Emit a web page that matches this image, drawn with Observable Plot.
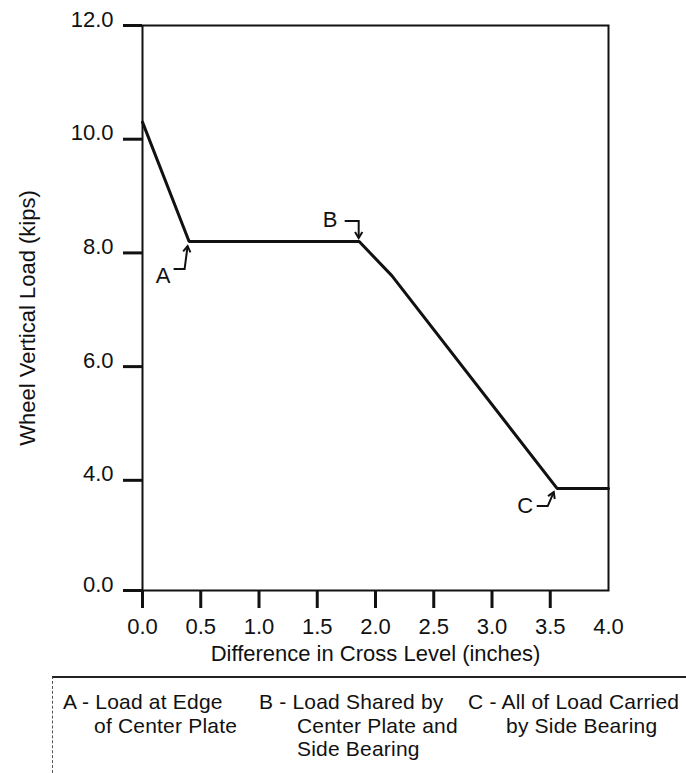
<!DOCTYPE html>
<html><head><meta charset="utf-8">
<script src="https://cdn.jsdelivr.net/npm/d3@7"></script>
<script src="https://cdn.jsdelivr.net/npm/@observablehq/plot@0.6"></script>
<style>
body{margin:0;background:#fff;font-family:"Liberation Sans",Arial,sans-serif;color:#111}
#chart svg{display:block}
#legend{position:relative;margin-left:52px;border-top:2px solid #222;border-left:1px dashed #555;height:95px;}
.note{position:absolute;top:12px;font-size:21px;letter-spacing:0.2px;line-height:23.5px;white-space:nowrap}
</style></head><body><div id="chart"></div><div id="legend"></div>
<script>
// ---- data ----
const crossLevel = [0, 0.4, 1.86, 2.14, 3.56, 4.0];
const wheelLoad  = [10.3, 8.2, 8.2, 7.6, 3.7, 3.7];
const xTicks = [0, 0.5, 1, 1.5, 2, 2.5, 3, 3.5, 4];
const yTicks = [0, 4, 6, 8, 10, 12];
const markerLetters = ["A", "B", "C"];
const markerIndex = [1, 2, 4];
const xTitle = "Difference in Cross Level (inches)";
const yTitle = "Wheel Vertical Load (kips)";
const notes = [
  ["A - Load at Edge", "of Center Plate"],
  ["B - Load Shared by", "Center Plate and", "Side Bearing"],
  ["C - All of Load Carried", "by Side Bearing"]
];

// ---- layout / style ----
const W = 686, H = 676, mT = 25, mB = 86, mL = 142, mR = 78;
const yBreakFrac = 0.195; // axis is compressed between 0 and 4
const ink = "#111";
const hookStyle = [
  {lx: -26, ly: 34, hx0: -15, hx1: -4, hy: 28, tx: -1, ty: 5},
  {lx: -29, ly: -22, hx0: -14, hx1: 0, hy: -20, tx: 0, ty: -3},
  {lx: -32, ly: 17, hx0: -20, hx1: -9, hy: 18, tx: -3, ty: 4}
];
const noteLeft = [10, 206, 415];
const noteIndent = [31, 38, 38];

const plotBottom = H - mB, plotTop = mT;
const plotBreak = plotBottom - yBreakFrac * (plotBottom - plotTop);

function hookMark(index, scales) {
  const g = d3.create("svg:g").attr("fill", "none").attr("stroke", ink).attr("stroke-width", 2);
  hookStyle.forEach((h, k) => {
    const i = markerIndex[k];
    const px = scales.x(crossLevel[i]), py = scales.y(wheelLoad[i]);
    const x0 = px + h.hx0, x1 = px + h.hx1, yh = py + h.hy, tx = px + h.tx, ty = py + h.ty;
    g.append("path").attr("d", `M${x0},${yh}H${x1}L${tx},${ty}`);
    const ang = Math.atan2(ty - yh, tx - x1), L = 7, a = 0.55;
    g.append("path").attr("d",
      `M${tx - L * Math.cos(ang - a)},${ty - L * Math.sin(ang - a)}L${tx},${ty}L${tx - L * Math.cos(ang + a)},${ty - L * Math.sin(ang + a)}`);
  });
  return g.node();
}

const chart = Plot.plot({
  width: W, height: H, marginTop: mT, marginBottom: mB, marginLeft: mL, marginRight: mR,
  style: {fontFamily: '"Liberation Sans", Arial, sans-serif', color: ink, background: "#fff"},
  x: {domain: [0, 4], axis: null},
  y: {type: "linear", domain: [0, 4, 12], range: [plotBottom, plotBreak, plotTop], axis: null},
  marks: [
    Plot.frame({stroke: ink, strokeWidth: 2}),
    Plot.axisY(yTicks, {tickSize: 19, tickFormat: () => "", strokeWidth: 3, stroke: ink, label: null}),
    Plot.axisY(yTicks, {tickSize: 0, tickPadding: 29, tickFormat: d3.format(".1f"), dy: -6, fontSize: 22, fill: ink, label: null}),
    Plot.axisX(xTicks.slice(0, -1), {tickSize: 18, tickFormat: () => "", strokeWidth: 3, stroke: ink, label: null}),
    Plot.axisX(xTicks, {tickSize: 0, tickPadding: 28, tickFormat: d3.format(".1f"), fontSize: 22, fill: ink, label: null}),
    Plot.line(crossLevel, {x: d => d, y: (d, i) => wheelLoad[i], stroke: ink, strokeWidth: 3, strokeLinejoin: "miter"}),
    ...markerLetters.map((m, k) => Plot.text([m], {
      x: () => crossLevel[markerIndex[k]], y: () => wheelLoad[markerIndex[k]], text: d => d,
      dx: hookStyle[k].lx, dy: hookStyle[k].ly, fontSize: 22, fill: ink
    })),
    hookMark,
    Plot.text([xTitle], {frameAnchor: "bottom", dy: 70, text: d => d, fontSize: 22, fill: ink}),
    Plot.text([yTitle], {frameAnchor: "left", textAnchor: "middle", rotate: -90, dx: -115, dy: 10, text: d => d, fontSize: 22, fill: ink})
  ]
});
document.getElementById("chart").append(chart);

const legend = document.getElementById("legend");
notes.forEach((lines, k) => {
  const div = document.createElement("div");
  div.className = "note";
  div.style.left = noteLeft[k] + "px";
  lines.forEach((s, j) => {
    const ln = document.createElement("div");
    ln.textContent = s;
    ln.style.marginLeft = (j === 0 ? 0 : noteIndent[k]) + "px";
    div.appendChild(ln);
  });
  legend.appendChild(div);
});
</script></body></html>
